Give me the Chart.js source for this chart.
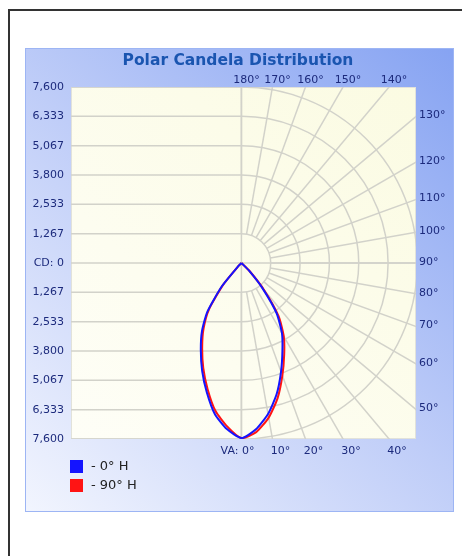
<!DOCTYPE html>
<html>
<head>
<meta charset="utf-8">
<script src="https://cdn.jsdelivr.net/npm/chart.js@4.4.0/dist/chart.umd.min.js"></script>
<style>
	html, body { margin: 0; padding: 0; background: #fff; }
	canvas { display: block; }
</style>
</head>
<body>
<canvas id="graficoPolar" width="462" height="556"></canvas>
<script>
// vertical angles, 0 = straight down (nadir)
var angulos = [0, 5, 10, 15, 20, 25, 30, 35, 40, 45, 50, 60, 70, 80, 90];

// candela per plane (right side / mirrored left side)
var cd0H   = [7560, 7210, 6620, 5870, 5000, 4190, 3500, 2650, 1400, 480, 0, 0, 0, 0, 0];
var cd180H = [7560, 7200, 6620, 5780, 4960, 4150, 3410, 2560, 1300, 180, 0, 0, 0, 0, 0];
var cd90H  = [7560, 7330, 6780, 6040, 5170, 4370, 3660, 2800, 1520, 520, 0, 0, 0, 0, 0];
var cd270H = [7560, 7080, 6480, 5640, 4820, 4010, 3270, 2440, 1220, 150, 0, 0, 0, 0, 0];

var series = ['- 0° H', '- 90° H'];
var cores = ['#1414ff', '#ff1414'];

// rings / tick values (cd)
var aneis = [1267, 2533, 3800, 5067, 6333, 7600];
var cdMax = 7600;

// angle labels around the frame
var rotulosTopo = [180, 170, 160, 150, 140];
var rotulosDireita = [130, 120, 110, 100, 90, 80, 70, 60, 50];
var rotulosBase = [0, 10, 20, 30, 40];
var raios = [0, 10, 20, 30, 40, 50, 60, 70, 80, 90, 100, 110, 120, 130, 140, 150, 160, 170, 180];

function rad(g) { return g * Math.PI / 180; }

function pontos(cds, lado) {
	return angulos.map(function(a, i) {
		return { x: lado * cds[i] * Math.sin(rad(a)), y: -cds[i] * Math.cos(rad(a)) };
	});
}

function curva(direita, esquerda) {
	return pontos(esquerda, -1).reverse().concat(pontos(direita, 1).slice(1));
}

function formata(v) {
	if (v === 0) return 'CD: 0';
	return Math.round(Math.abs(v)).toString().replace(/\B(?=(\d{3})+(?!\d))/g, ',');
}

var ticksCd = [];
aneis.slice().reverse().forEach(function(v) { ticksCd.push(-v); });
ticksCd.push(0);
aneis.forEach(function(v) { ticksCd.push(v); });

var fonteEixo = '11px "DejaVu Sans", sans-serif';
var corEixo = '#1c2a7c';
var corGrade = '#d2d2ca';

var molduraPlugin = {
	id: 'moldura',
	beforeDraw: function(chart) {
		var ctx = chart.ctx;
		var area = chart.chartArea;
		ctx.save();
		ctx.fillStyle = '#fff';
		ctx.fillRect(0, 0, chart.width, chart.height);

		// outer frame
		ctx.strokeStyle = '#333';
		ctx.lineWidth = 2;
		ctx.strokeRect(9, 10, 600, 600);

		// blue panel
		var g = ctx.createLinearGradient(25, 512, 454, 48);
		g.addColorStop(0, '#f2f5fe');
		g.addColorStop(0.5, '#bfcdf8');
		g.addColorStop(1, '#86a3f2');
		ctx.fillStyle = g;
		ctx.fillRect(25, 48, 429, 464);
		ctx.strokeStyle = '#9db5f4';
		ctx.lineWidth = 1;
		ctx.strokeRect(25.5, 48.5, 428, 463);

		// plot area
		var p = ctx.createLinearGradient(area.left, area.bottom, area.right, area.top);
		p.addColorStop(0, '#fefef7');
		p.addColorStop(1, '#fbfbe2');
		ctx.fillStyle = p;
		ctx.fillRect(area.left, area.top, area.right - area.left, area.bottom - area.top);
		ctx.strokeStyle = '#e2e2da';
		ctx.strokeRect(area.left + 0.5, area.top + 0.5, area.right - area.left - 1, area.bottom - area.top - 1);

		// title
		ctx.fillStyle = '#1a55b0';
		ctx.font = 'bold 15.5px "DejaVu Sans", sans-serif';
		ctx.textAlign = 'center';
		ctx.textBaseline = 'middle';
		ctx.fillText('Polar Candela Distribution', 238, 61);
		ctx.restore();
	},
	beforeDatasetsDraw: function(chart) {
		var ctx = chart.ctx;
		var area = chart.chartArea;
		var sx = chart.scales.x;
		var sy = chart.scales.y;
		var x0 = sx.getPixelForValue(0);
		var y0 = sy.getPixelForValue(0);
		var escala = function(v) { return Math.abs(sy.getPixelForValue(v) - y0); };

		ctx.save();
		ctx.beginPath();
		ctx.rect(area.left, area.top, area.right - area.left, area.bottom - area.top);
		ctx.clip();
		ctx.strokeStyle = corGrade;
		ctx.lineWidth = 1.5;

		// left half: horizontal lines
		ticksCd.forEach(function(v) {
			var y = sy.getPixelForValue(v);
			ctx.beginPath();
			ctx.moveTo(area.left, y);
			ctx.lineTo(v === 0 ? area.right : x0, y);
			ctx.stroke();
		});
		// center vertical
		ctx.beginPath();
		ctx.moveTo(x0, area.top);
		ctx.lineTo(x0, area.bottom);
		ctx.stroke();

		// right half: rings
		aneis.forEach(function(v) {
			ctx.beginPath();
			ctx.arc(x0, y0, escala(v), -Math.PI / 2, Math.PI / 2);
			ctx.stroke();
		});
		// right half: radial lines
		var r0 = escala(aneis[0]);
		raios.forEach(function(a) {
			var dx = Math.sin(rad(a)), dy = Math.cos(rad(a));
			ctx.beginPath();
			ctx.moveTo(x0 + r0 * dx, y0 + r0 * dy);
			ctx.lineTo(x0 + 600 * dx, y0 + 600 * dy);
			ctx.stroke();
		});
		ctx.restore();
	},
	afterDraw: function(chart) {
		var ctx = chart.ctx;
		var area = chart.chartArea;
		var sx = chart.scales.x;
		var sy = chart.scales.y;
		ctx.save();
		ctx.fillStyle = corEixo;
		ctx.font = fonteEixo;
		ctx.textBaseline = 'middle';

		// top labels
		ctx.textAlign = 'center';
		rotulosTopo.forEach(function(a) {
			var x = sx.getPixelForValue(cdMax * Math.tan(rad(180 - a)));
			ctx.fillText(a + '°', x + 5, 80);
		});
		// bottom labels
		rotulosBase.forEach(function(a) {
			var x = sx.getPixelForValue(cdMax * Math.tan(rad(a)));
			if (a === 0) {
				ctx.textAlign = 'right';
				ctx.fillText('VA: 0°', x + 13, 451);
				ctx.textAlign = 'center';
			} else {
				ctx.fillText(a + '°', x + 8, 451);
			}
		});
		// right labels
		ctx.textAlign = 'left';
		rotulosDireita.forEach(function(a) {
			var y = sy.getPixelForValue(-sx.max * Math.cos(rad(a)) / Math.sin(rad(a)));
			ctx.fillText(a + '°', area.right + 3, y - 1);
		});

		// legend
		ctx.font = '13px "DejaVu Sans", sans-serif';
		chart.data.datasets.forEach(function(ds, i) {
			var y = 460 + i * 19;
			ctx.fillStyle = ds.borderColor;
			ctx.fillRect(70, y, 13, 13);
			ctx.fillStyle = '#222';
			ctx.fillText(ds.label, 91, y + 7);
		});
		ctx.restore();
	}
};

var grafico = new Chart(document.getElementById('graficoPolar').getContext('2d'), {
	type: 'scatter',
	data: {
		datasets: [{
			label: series[0],
			data: curva(cd0H, cd180H),
			borderColor: cores[0],
			backgroundColor: cores[0]
		}, {
			label: series[1],
			data: curva(cd90H, cd270H),
			borderColor: cores[1],
			backgroundColor: cores[1]
		}]
	},
	options: {
		responsive: false,
		animation: false,
		devicePixelRatio: 1,
		layout: { padding: { left: 25, top: 87, right: 46, bottom: 117 } },
		elements: {
			point: { radius: 0 },
			line: { borderWidth: 2, tension: 0.2, fill: false }
		},
		datasets: { scatter: { showLine: true } },
		plugins: {
			legend: { display: false },
			title: { display: false },
			tooltip: { enabled: false }
		},
		scales: {
			x: { type: 'linear', display: false, min: -7360, max: 7540 },
			y: {
				type: 'linear',
				min: -cdMax,
				max: cdMax,
				grid: { display: false, drawTicks: false },
				border: { display: false },
				afterBuildTicks: function(scale) {
					scale.ticks = ticksCd.map(function(v) { return { value: v }; });
				},
				afterFit: function(scale) { scale.width = 46; },
				ticks: {
					autoSkip: false,
					padding: 7,
					color: corEixo,
					font: { family: '"DejaVu Sans", sans-serif', size: 11 },
					callback: function(v) { return formata(v); }
				}
			}
		}
	},
	plugins: [molduraPlugin]
});
</script>
</body>
</html>
